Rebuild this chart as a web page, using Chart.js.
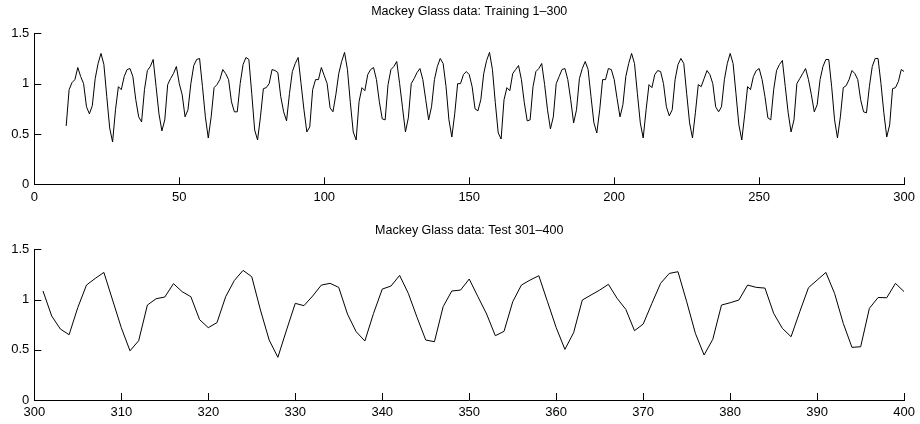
<!DOCTYPE html>
<html><head><meta charset="utf-8">
<script src="https://cdn.jsdelivr.net/npm/chart.js@4"></script>
<style>
html,body{margin:0;padding:0;background:#fff;width:920px;height:424px;overflow:hidden}
canvas{position:absolute;left:0}
#c1{top:0}
#c2{top:212px}
</style></head><body>
<canvas id="c1" width="920" height="212"></canvas>
<canvas id="c2" width="920" height="212"></canvas>
<script>
const trainTitle = 'Mackey Glass data: Training 1\u2013300';
const testTitle = 'Mackey Glass data: Test 301\u2013400';
const trainStart = 11;
const trainValues = [
0.58,0.94,1.01,1.04,1.16,1.07,1.00,0.77,0.70,0.78,
1.05,1.20,1.30,1.19,0.87,0.56,0.42,0.74,0.97,0.94,
1.07,1.14,1.15,1.07,0.84,0.67,0.62,0.94,1.13,1.17,
1.24,0.97,0.70,0.53,0.64,0.99,1.05,1.10,1.17,1.00,
0.89,0.67,0.74,1.00,1.18,1.24,1.25,0.97,0.67,0.46,
0.67,0.96,0.99,1.04,1.14,1.10,1.04,0.82,0.72,0.72,
1.00,1.19,1.26,1.24,0.90,0.54,0.44,0.67,0.95,0.96,
1.00,1.14,1.13,1.11,0.87,0.72,0.63,0.90,1.12,1.20,
1.26,1.00,0.74,0.52,0.57,0.94,1.04,1.04,1.16,1.08,
1.00,0.76,0.72,0.89,1.10,1.22,1.31,1.14,0.81,0.52,
0.44,0.82,0.96,0.93,1.09,1.14,1.16,1.04,0.82,0.65,
0.64,0.99,1.14,1.17,1.22,1.00,0.76,0.52,0.66,1.00,
1.05,1.11,1.15,1.04,0.84,0.64,0.77,1.04,1.17,1.25,
1.20,0.97,0.64,0.47,0.70,1.00,1.00,1.09,1.12,1.09,
0.97,0.75,0.73,0.84,1.10,1.23,1.31,1.14,0.81,0.51,
0.45,0.84,0.96,0.93,1.10,1.14,1.18,1.04,0.81,0.63,
0.64,0.97,1.12,1.15,1.20,0.99,0.74,0.55,0.67,1.00,
1.07,1.14,1.15,1.04,0.84,0.61,0.74,1.05,1.15,1.22,
1.14,0.87,0.61,0.51,0.74,1.04,1.04,1.15,1.14,1.04,
0.85,0.67,0.79,1.07,1.20,1.30,1.20,0.90,0.61,0.46,
0.74,0.99,0.96,1.09,1.13,1.12,1.00,0.77,0.68,0.74,
1.04,1.19,1.25,1.20,0.90,0.61,0.46,0.71,0.99,0.97,
1.05,1.13,1.09,1.00,0.77,0.72,0.77,1.04,1.20,1.30,
1.20,0.90,0.59,0.44,0.69,0.97,0.94,1.07,1.13,1.15,
1.04,0.87,0.66,0.64,0.94,1.13,1.19,1.23,0.97,0.71,
0.52,0.64,1.00,1.05,1.10,1.15,1.04,0.89,0.72,0.79,
1.04,1.17,1.24,1.24,0.97,0.64,0.46,0.67,0.96,0.98,
1.04,1.13,1.10,1.04,0.84,0.72,0.71,0.97,1.17,1.25,
1.25,1.00,0.71,0.47,0.59,0.95,0.96,1.02,1.14,1.12
];
const testStart = 301;
const testValues = [
1.085,0.836,0.706,0.65,0.92,1.144,1.21,1.27,0.995,0.72,
0.49,0.59,0.945,1.008,1.025,1.158,1.078,1.028,0.80,0.72,
0.77,1.028,1.19,1.29,1.227,0.895,0.597,0.425,0.697,0.962,
0.939,1.035,1.144,1.161,1.121,0.856,0.68,0.587,0.862,1.104,
1.134,1.24,1.061,0.823,0.597,0.58,0.929,1.085,1.094,1.204,
1.028,0.856,0.64,0.683,0.978,1.144,1.194,1.237,0.978,0.72,
0.504,0.67,0.995,1.045,1.094,1.151,1.012,0.902,0.69,0.756,
0.962,1.161,1.26,1.277,0.978,0.663,0.448,0.604,0.945,0.968,
0.995,1.144,1.121,1.114,0.862,0.713,0.63,0.879,1.118,1.194,
1.27,1.061,0.763,0.524,0.53,0.912,1.02,1.018,1.161,1.078
];
const trainXTicks = [0,50,100,150,200,250,300];
const testXTicks = [300,310,320,330,340,350,360,370,380,390,400];
const yTicks = [0,0.5,1,1.5];
const yTickLabels = ['0','0.5','1','1.5'];

Chart.defaults.font.family = "'Liberation Sans', Arial, Helvetica, sans-serif";
Chart.defaults.font.size = 13;
Chart.defaults.color = '#000';

const inwardTicks = {
  id: 'inwardTicks',
  afterDraw(chart) {
    const {ctx, chartArea: a} = chart;
    const xs = chart.scales.x, ys = chart.scales.y;
    ctx.save();
    ctx.strokeStyle = '#000';
    ctx.lineWidth = 1;
    ctx.beginPath();
    xs.ticks.forEach(t => {
      const px = Math.round(xs.getPixelForValue(t.value)) + 0.5;
      ctx.moveTo(px, a.bottom); ctx.lineTo(px, a.bottom - 7);
    });
    ys.ticks.forEach(t => {
      const py = Math.round(ys.getPixelForValue(t.value)) + 0.5;
      ctx.moveTo(a.left, py); ctx.lineTo(a.left + 7, py);
    });
    ctx.stroke();
    ctx.restore();
  }
};

function makeChart(id, title, start, values, xTicks, cfg) {
  const pts = values.map((v, i) => ({x: start + i, y: v}));
  return new Chart(document.getElementById(id), {
    type: 'line',
    data: {datasets: [{data: pts, borderColor: '#000', borderWidth: 1, pointRadius: 0, tension: 0, fill: false}]},
    options: {
      responsive: false,
      animation: false,
      events: [],
      layout: {padding: {left: 0, right: 15, top: 0, bottom: 0}},
      plugins: {
        legend: {display: false},
        tooltip: {enabled: false},
        title: {display: true, fullSize: false, text: title, color: '#000', font: {size: 12.5, weight: 'normal'}, padding: cfg.titlePad}
      },
      scales: {
        x: {
          type: 'linear', min: xTicks[0], max: xTicks[xTicks.length - 1],
          afterBuildTicks: s => { s.ticks = xTicks.map(v => ({value: v})); },
          afterFit: s => { s.height = cfg.xh; },
          grid: {display: false, drawTicks: false},
          border: {display: true, color: '#000', width: 1},
          ticks: {padding: cfg.xpad, color: '#000', maxRotation: 0, autoSkip: false, callback: v => String(v)}
        },
        y: {
          type: 'linear', min: 0, max: 1.5,
          afterBuildTicks: s => { s.ticks = yTicks.map(v => ({value: v})); },
          afterFit: s => { s.width = 34.3; },
          grid: {display: false, drawTicks: false},
          border: {display: true, color: '#000', width: 1},
          ticks: {padding: 5, color: '#000', callback: (v, i) => yTickLabels[yTicks.indexOf(v)] ?? String(v)}
        }
      }
    },
    plugins: [inwardTicks]
  });
}

makeChart('c1', trainTitle, trainStart, trainValues, trainXTicks, {titlePad: {top: 4.5, bottom: 13.8}, xh: 27.7, xpad: 5});
makeChart('c2', testTitle, testStart, testValues, testXTicks, {titlePad: {top: 11.5, bottom: 10.8}, xh: 24, xpad: 5});
</script>
</body></html>
